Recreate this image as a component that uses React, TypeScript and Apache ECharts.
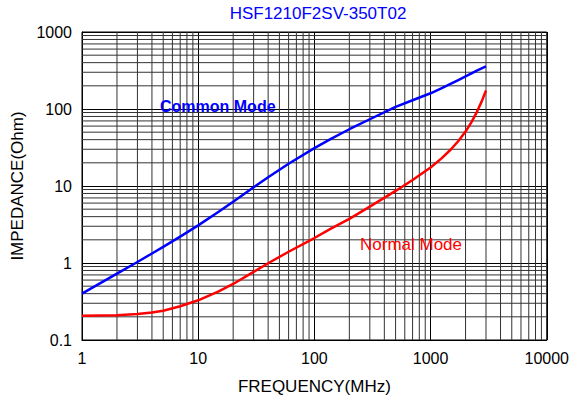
import React, { useEffect, useRef } from "react";
import * as echarts from "echarts";

const titleText = "HSF1210F2SV-350T02";
const xAxisName = "FREQUENCY(MHz)";
const yAxisName = "IMPEDANCE(Ohm)";

const freq = [1, 2, 3, 4, 5, 7, 10, 15, 20, 30, 40, 60, 100, 140, 200, 300, 500, 700, 1000, 1250, 1500, 1750, 2000, 2250, 2500, 2750, 3000];
const commonMode = [0.4, 0.726, 1.03, 1.33, 1.62, 2.2, 3.08, 4.62, 6.25, 9.62, 12.97, 19.45, 31.1, 41.3, 54.6, 73.6, 106.4, 130, 160, 187, 213, 239, 265, 290, 315, 337, 358];
const normalMode = [0.206, 0.21, 0.217, 0.227, 0.24, 0.274, 0.328, 0.427, 0.534, 0.767, 0.993, 1.4, 2.11, 2.81, 3.74, 5.39, 8.63, 11.97, 17.4, 23.0, 30.0, 39.0, 50.9, 67.6, 91.2, 124.7, 174];

const xDecades = [1, 10, 100, 1000];
const yDecades = [0.1, 1, 10, 100];
const minorSteps = [2, 3, 4, 5, 6, 7, 8, 9];

const X_MIN = 1, X_MAX = 10000, Y_MIN = 0.1, Y_MAX = 1000;
const FONT = "'Liberation Sans', Arial, sans-serif";

const xMinor: number[] = [];
xDecades.forEach((d) => minorSteps.forEach((m) => xMinor.push(+(d * m).toPrecision(6))));
const yMinor: number[] = [];
yDecades.forEach((d) => minorSteps.forEach((m) => yMinor.push(+(d * m).toPrecision(6))));

export default function App() {
  const ref = useRef<HTMLDivElement>(null);
  useEffect(() => {
    if (!ref.current) return;
    const chart = echarts.init(ref.current, null, { renderer: "svg" });
    const gridLineStyle = { stroke: "#333", lineWidth: 1 };
    chart.setOption({
      animation: false,
      backgroundColor: "#fff",
      title: {
        text: titleText,
        left: 318,
        top: 5,
        textAlign: "center",
        padding: 0,
        textStyle: { color: "#0000ff", fontSize: 17, fontWeight: "normal", fontFamily: FONT },
      },
      grid: { left: 82, right: 24, top: 32, bottom: 63, show: true, borderColor: "#000", borderWidth: 1 },
      xAxis: {
        type: "log",
        logBase: 10,
        min: X_MIN,
        max: X_MAX,
        name: xAxisName,
        nameLocation: "middle",
        nameGap: 38,
        nameTextStyle: { color: "#000", fontSize: 17, fontFamily: FONT },
        axisLine: { lineStyle: { color: "#000", width: 1 } },
        axisTick: { show: false },
        axisLabel: { color: "#000", fontSize: 16, fontFamily: FONT, margin: 10, formatter: (v: number) => String(v) },
        splitLine: { show: true, lineStyle: { color: "#000", width: 1 } },
      },
      yAxis: {
        type: "log",
        logBase: 10,
        min: Y_MIN,
        max: Y_MAX,
        name: yAxisName,
        nameLocation: "middle",
        nameGap: 54,
        nameRotate: 90,
        nameTextStyle: { color: "#000", fontSize: 17, fontFamily: FONT },
        axisLine: { lineStyle: { color: "#000", width: 1 } },
        axisTick: { show: false },
        axisLabel: { color: "#000", fontSize: 16, fontFamily: FONT, margin: 10, formatter: (v: number) => String(v) },
        splitLine: { show: true, lineStyle: { color: "#000", width: 1 } },
      },
      graphic: [
        {
          type: "text",
          left: 160,
          top: 98,
          z: 100,
          style: { text: "Common Mode", fill: "#0000ff", font: `bold 16px ${FONT}` },
        },
        {
          type: "text",
          left: 360,
          top: 236,
          z: 100,
          style: { text: "Normal Mode", fill: "#ff0000", font: `17px ${FONT}` },
        },
      ],
      series: [
        {
          type: "custom",
          silent: true,
          z: 1,
          clip: true,
          data: xMinor.map((v) => [v, Y_MIN]),
          renderItem: (params: any, api: any) => {
            const v = api.value(0);
            const p1 = api.coord([v, Y_MIN]);
            const p2 = api.coord([v, Y_MAX]);
            return { type: "line", shape: { x1: p1[0], y1: p1[1], x2: p2[0], y2: p2[1] }, style: gridLineStyle };
          },
        },
        {
          type: "custom",
          silent: true,
          z: 1,
          clip: true,
          data: yMinor.map((v) => [X_MIN, v]),
          renderItem: (params: any, api: any) => {
            const v = api.value(1);
            const p1 = api.coord([X_MIN, v]);
            const p2 = api.coord([X_MAX, v]);
            return { type: "line", shape: { x1: p1[0], y1: p1[1], x2: p2[0], y2: p2[1] }, style: gridLineStyle };
          },
        },
        {
          name: "Common Mode",
          type: "line",
          z: 3,
          data: freq.map((f, i) => [f, commonMode[i]]),
          showSymbol: false,
          smooth: false,
          lineStyle: { color: "#0000ff", width: 2.5, join: "round" },
        },
        {
          name: "Normal Mode",
          type: "line",
          z: 3,
          data: freq.map((f, i) => [f, normalMode[i]]),
          showSymbol: false,
          smooth: false,
          lineStyle: { color: "#ff0000", width: 2.5, join: "round" },
        },
      ],
    });
    return () => chart.dispose();
  }, []);
  return <div ref={ref} style={{ position: "fixed", left: 0, top: 0, width: 572, height: 403 }} />;
}
